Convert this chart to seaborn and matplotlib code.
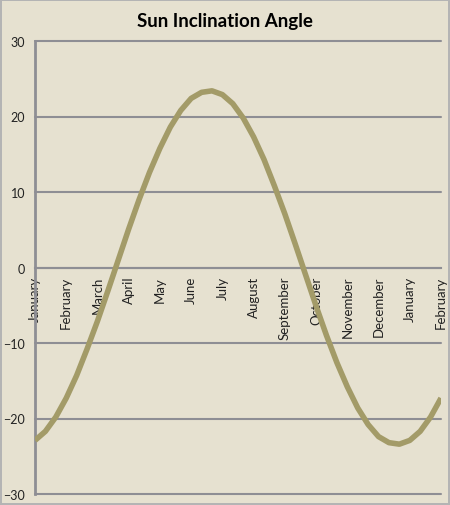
import numpy as np
import pandas as pd
import seaborn as sns
import matplotlib.pyplot as plt

# month names on the category axis (Jan .. Feb of next year)
month_labels = ['January', 'February', 'March', 'April', 'May', 'June', 'July',
                'August', 'September', 'October', 'November', 'December',
                'January', 'February']

# sun inclination, every third of a month from Jan 1
angle = [-22.9, -21.7, -19.8, -17.3, -14.3, -10.8, -7.1, -3.1,
         1.0, 5.1, 9.0, 12.6, 15.8, 18.6, 20.8, 22.4, 23.2, 23.4,
         22.9, 21.7, 19.8, 17.3, 14.3, 10.8, 7.1, 3.1, -1.0,
         -5.1, -9.0, -12.6, -15.8, -18.6, -20.8, -22.4, -23.2, -23.4,
         -22.9, -21.7, -19.8, -17.3]
month_pos = np.arange(len(angle)) / 3

data = pd.DataFrame({'month': month_pos, 'angle': angle})

bg = '#E6E1D0'
grid_col = '#8E8E94'

sns.set_style('white')
plt.rcParams['font.family'] = ['Lato', 'DejaVu Sans']

fig = plt.figure(figsize=(4.5, 5.06), dpi=100, facecolor=bg,
                 edgecolor='#B4B4B4', linewidth=1.5)
ax = fig.add_axes([35 / 450, 1 - 495 / 506, 406 / 450, 453 / 506])
ax.set_facecolor(bg)

sns.lineplot(data=data, x='month', y='angle', color='#A39B68', linewidth=4,
             ax=ax, zorder=3, solid_joinstyle='round', solid_capstyle='butt')

ax.set_xlim(0, 13)
ax.set_ylim(-30, 30)
ax.set_yticks(range(-30, 31, 10))
ax.set_xticks(range(len(month_labels)))
ax.set_xticklabels(month_labels)
ax.tick_params(axis='y', labelsize=9, colors=grid_col, labelcolor='#222222',
               length=4, width=1.5, direction='out', pad=3)
ax.tick_params(axis='x', colors=grid_col, labelcolor='#222222', length=8,
               width=1.5, direction='inout', pad=2, labelsize=9.5,
               labelrotation=90)
for lbl in ax.get_xticklabels():
    lbl.set_va('top')
    lbl.set_ha('center')

ax.grid(axis='y', color=grid_col, linewidth=1.5)
for gl in ax.get_ygridlines():
    gl.set_clip_on(False)
ax.grid(axis='x', visible=False)

for side in ['top', 'right']:
    ax.spines[side].set_visible(False)
ax.spines['left'].set_color(grid_col)
ax.spines['left'].set_linewidth(2)
ax.spines['bottom'].set_position(('data', 0))
ax.spines['bottom'].set_color(grid_col)
ax.spines['bottom'].set_linewidth(1.5)

ax.set_xlabel('')
ax.set_ylabel('')
fig.text(0.5, 1 - 21 / 506, 'Sun Inclination Angle', ha='center', va='center',
         fontsize=13.5, fontweight='bold', color='black')

fig.savefig('out.png', dpi=100, facecolor=bg, edgecolor='#B4B4B4')
